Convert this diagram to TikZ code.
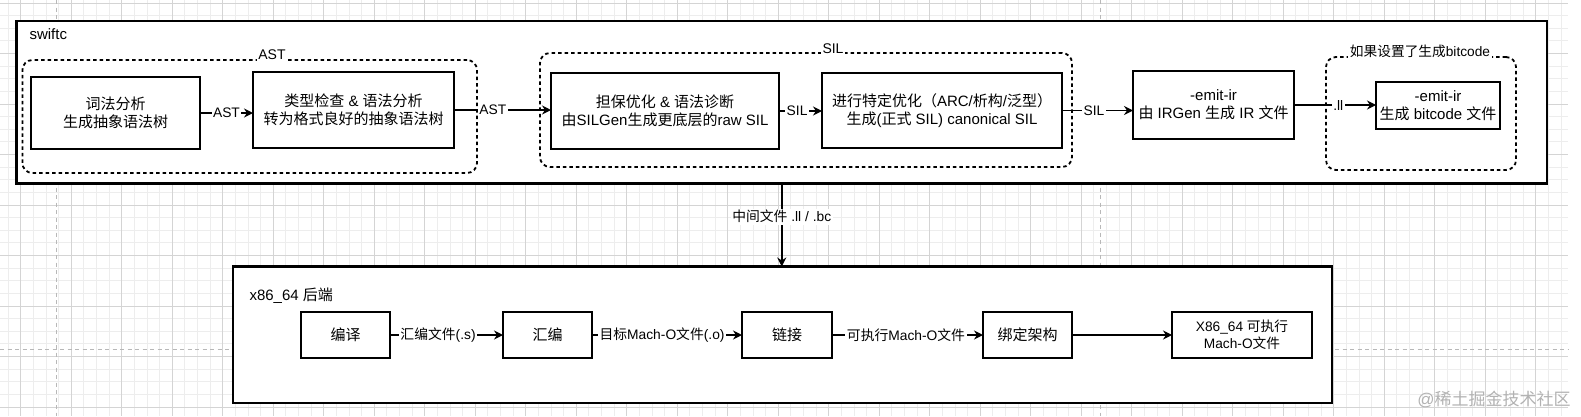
\documentclass[tikz,border=0pt]{standalone}
\usepackage{fontspec}
\setmainfont{Liberation Sans}
\newfontfamily\cjk{Noto Sans CJK SC}
\newcommand\zh[1]{{\cjk #1}}
\usetikzlibrary{arrows.meta}
\begin{document}
\begin{tikzpicture}[x=1pt,y=-1pt,
  every node/.style={inner sep=0pt, outer sep=0pt},
  box/.style={draw=black, line width=2pt, fill=white, align=center, font=\fontsize{15}{18}\selectfont},
  outerbox/.style={draw=black, line width=2.2pt, fill=white},
  grp/.style={draw=black, line width=1.8pt, dash pattern=on 3.5pt off 3pt, rounded corners=10pt},
  lbl/.style={fill=white, inner sep=1.5pt, font=\fontsize{13.8}{16}\selectfont},
  glbl/.style={fill=white, inner sep=1.5pt, font=\fontsize{14}{16}\selectfont},
  titlelbl/.style={anchor=west, font=\fontsize{15}{18}\selectfont},
  conn/.style={line width=1.5pt, -{Stealth[length=9pt,width=9pt,inset=3pt]}},
  minorgrid/.style={draw=black!7, line width=0.8pt},
  majorgrid/.style={draw=black!17, line width=0.8pt},
  pagebreak/.style={draw=black!28, line width=1pt, dash pattern=on 4pt off 3.5pt},
]
\useasboundingbox (0,0) rectangle (1581,416);
\fill[white] (0,0) rectangle (1581,416);
% canvas grid
\foreach \i in {0,...,123} \draw[minorgrid] ({8.075+\i*12.625},0) -- ({8.075+\i*12.625},416);
\foreach \j in {0,...,32} \draw[minorgrid] (0,{2.9+\j*12.625}) -- (1568,{2.9+\j*12.625});
\foreach \k in {0,...,30} \draw[majorgrid] ({20.7+\k*50.5},0) -- ({20.7+\k*50.5},416);
\foreach \k in {0,...,8} \draw[majorgrid] (0,{2.9+\k*50.5}) -- (1568,{2.9+\k*50.5});
\draw[pagebreak] (56.7,0) -- (56.7,416);
\draw[pagebreak] (1100,0) -- (1100,416);
\draw[pagebreak] (0,349) -- (1568,349);

% swiftc container
\node[outerbox, minimum width=1530.5pt, minimum height=162.5pt] (swiftc) at (781.75,102.25) {};
\node[titlelbl] (swiftclbl) at (29.5,34.5) {swiftc};

% groups
\node[grp, minimum width=454.6pt, minimum height=113pt] (gast) at (249.7,116.5) {};
\node[glbl] (gastl) at (272,54.5) {AST};
\node[grp, minimum width=532pt, minimum height=114pt] (gsil) at (806,110) {};
\node[glbl] (gsill) at (833,48.5) {SIL};
\node[grp, minimum width=190pt, minimum height=113pt] (gbc) at (1421,113.5) {};
\node[glbl, font=\fontsize{13.7}{16}\selectfont] (gbcl) at (1420,51) {\zh{如果设置了生成}bitcode};

% frontend boxes
\node[box, minimum width=169pt, minimum height=72pt] (b1) at (115.5,113) {\zh{词法分析}\\\zh{生成抽象语法树}};
\node[box, minimum width=201pt, minimum height=76pt] (b2) at (353.5,110) {\zh{类型检查} \& \zh{语法分析}\\\zh{转为格式良好的抽象语法树}};
\node[box, minimum width=228pt, minimum height=76pt] (b3) at (665,111) {\zh{担保优化} \& \zh{语法诊断}\\\zh{由}SILGen\zh{生成更底层的}raw SIL};
\node[box, minimum width=240pt, minimum height=75pt] (b4) at (942,110.5) {\zh{进行特定优化（}ARC/\zh{析构}/\zh{泛型）}\\\zh{生成}(\zh{正式} SIL) canonical SIL};
\node[box, minimum width=161pt, minimum height=68pt] (b5) at (1213.5,105) {-emit-ir\\\zh{由} IRGen \zh{生成} IR \zh{文件}};
\node[box, minimum width=124pt, minimum height=47pt] (b6) at (1438,105.5) {-emit-ir\\\zh{生成} bitcode \zh{文件}};

\draw[conn] (b1.east) -- (b1.east -| b2.west) node[lbl, pos=0.5] {AST};
\draw[conn] (b2.east) -- (b2.east -| b3.west) node[lbl, pos=0.4] {AST};
\draw[conn] (b3.east) -- (b3.east -| b4.west) node[lbl, pos=0.42] {SIL};
\draw[conn] (b4.east) -- (b4.east -| b5.west) node[lbl, pos=0.45] {SIL};
\draw[conn] (b5.east) -- (b5.east -| b6.west) node[lbl, pos=0.54] {.ll};

% backend container
\node[outerbox, minimum width=1099pt, minimum height=136.5pt] (backend) at (782.5,334.75) {};
\node[titlelbl] (backendlbl) at (249.5,296) {x86\_64 \zh{后端}};

\draw[conn] (swiftc.south) -- (swiftc.south |- backend.north) node[lbl, pos=0.4] {\zh{中间文件} .ll / .bc};

% backend boxes
\node[box, minimum width=89pt, minimum height=46pt] (c1) at (345.5,335) {\zh{编译}};
\node[box, minimum width=89pt, minimum height=46pt] (c2) at (547.5,335) {\zh{汇编}};
\node[box, minimum width=90pt, minimum height=46pt] (c3) at (787,335) {\zh{链接}};
\node[box, minimum width=89pt, minimum height=46pt] (c4) at (1027.5,335) {\zh{绑定架构}};
\node[box, minimum width=140pt, minimum height=46pt, font=\fontsize{13.7}{17}\selectfont] (c5) at (1242,335) {X86\_64 \zh{可执行}\\Mach-O\zh{文件}};

\draw[conn] (c1) -- (c2) node[lbl, pos=0.425] {\zh{汇编文件}(.s)};
\draw[conn] (c2) -- (c3) node[lbl, pos=0.467] {\zh{目标}Mach-O\zh{文件}(.o)};
\draw[conn] (c3) -- (c4) node[lbl, pos=0.49] {\zh{可执行}Mach-O\zh{文件}};
\draw[conn] (c4) -- (c5);

% watermark
\node[text=black!30, font=\fontsize{17}{20}\selectfont] (wm) at (1494,399) {@\zh{稀土掘金技术社区}};
\end{tikzpicture}
\end{document}
